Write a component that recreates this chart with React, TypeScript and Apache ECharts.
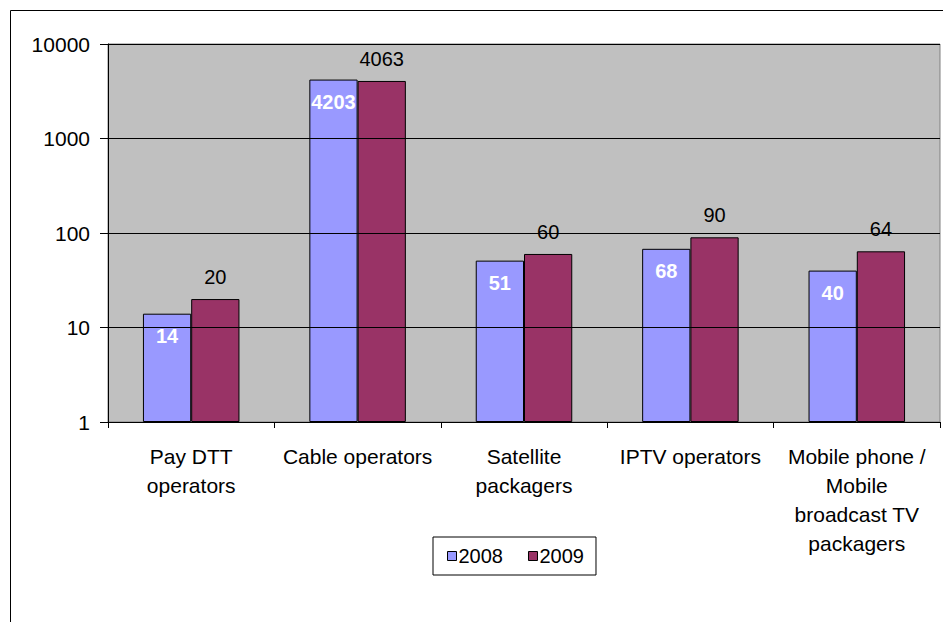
import React, { useEffect, useRef } from "react";
import * as echarts from "echarts";

const categories = [
  "Pay DTT\noperators",
  "Cable operators",
  "Satellite\npackagers",
  "IPTV operators",
  "Mobile phone /\nMobile\nbroadcast TV\npackagers",
];
const series2008 = [14, 4203, 51, 68, 40];
const series2009 = [20, 4063, 60, 90, 64];
const seriesNames = ["2008", "2009"];

const FONT = "'Liberation Sans', Arial, sans-serif";

export default function App() {
  const ref = useRef<HTMLDivElement>(null);
  useEffect(() => {
    document.body.style.margin = "0";
    const chart = echarts.init(ref.current!, null, { renderer: "svg" });
    chart.setOption({
      animation: false,
      backgroundColor: "#ffffff",
      textStyle: { fontFamily: FONT },
      graphic: [
        {
          type: "rect",
          shape: { x: 10.5, y: 10.5, width: 1000, height: 1000 },
          style: { fill: "none", stroke: "#000", lineWidth: 1 },
          silent: true,
          z: -1,
        },
      ],
      grid: {
        left: 108,
        top: 44,
        right: 3,
        bottom: 200,
        show: true,
        backgroundColor: "#C0C0C0",
        borderColor: "#808080",
        borderWidth: 1,
      },
      legend: {
        left: 433,
        top: 537,
        orient: "horizontal",
        data: seriesNames,
        icon: "rect",
        itemWidth: 9,
        itemHeight: 9,
        itemGap: 25,
        padding: [9, 12, 9, 14],
        borderColor: "#000",
        borderWidth: 1,
        textStyle: { fontFamily: FONT, fontSize: 20, color: "#000", padding: [0, 0, 0, -3] },
        itemStyle: { borderColor: "#000", borderWidth: 1 },
      },
      xAxis: {
        type: "category",
        data: categories,
        axisLine: { show: true, lineStyle: { color: "#000", width: 1 } },
        axisTick: { show: true, length: 6, lineStyle: { color: "#000" } },
        axisLabel: {
          interval: 0,
          fontFamily: FONT,
          fontSize: 21,
          lineHeight: 29,
          color: "#000",
          margin: 20,
          align: "center",
        },
        z: 5,
      },
      yAxis: {
        type: "log",
        logBase: 10,
        min: 1,
        max: 10000,
        axisLine: { show: true, lineStyle: { color: "#000", width: 1 } },
        axisTick: { show: true, length: 8, lineStyle: { color: "#000" } },
        axisLabel: {
          fontFamily: FONT,
          fontSize: 21,
          color: "#000",
          margin: 18,
          formatter: (v: number) => String(Math.round(v)),
        },
        splitLine: { show: true, lineStyle: { color: "#000", width: 1 } },
        minorTick: { show: false },
        z: 5,
      },
      series: [
        {
          name: seriesNames[0],
          type: "bar",
          data: series2008,
          barGap: "0%",
          barCategoryGap: "42%",
          itemStyle: { color: "#9999FF", borderColor: "#000", borderWidth: 1 },
          label: {
            show: true,
            position: "insideTop",
            distance: 12,
            color: "#fff",
            fontWeight: "bold",
            fontFamily: FONT,
            fontSize: 20,
          },
        },
        {
          name: seriesNames[1],
          type: "bar",
          data: series2009,
          barGap: "0%",
          barCategoryGap: "42%",
          itemStyle: { color: "#993366", borderColor: "#000", borderWidth: 1 },
          label: {
            show: true,
            position: "top",
            distance: 12,
            color: "#000",
            fontFamily: FONT,
            fontSize: 20,
          },
        },
      ],
    });
    return () => chart.dispose();
  }, []);
  return <div ref={ref} style={{ width: 943, height: 622 }} />;
}
